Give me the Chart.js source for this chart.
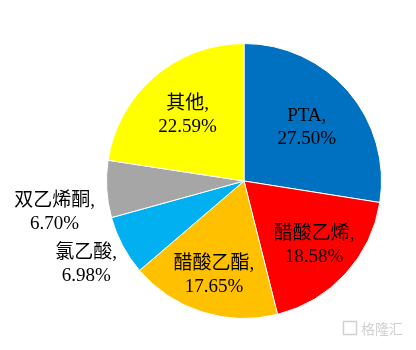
<!DOCTYPE html>
<html>
<head>
<meta charset="utf-8">
<script src="https://cdn.jsdelivr.net/npm/chart.js@4.4.0/dist/chart.umd.min.js"></script>
<style>
  html, body { margin: 0; padding: 0; background: #fff; }
  #wrap { width: 416px; height: 350px; position: relative; }
</style>
</head>
<body>
<div id="wrap"><canvas id="pieChart"></canvas></div>
<script>
// ==================== DATA ====================
const categories = ['PTA', '醋酸乙烯', '醋酸乙酯', '氯乙酸', '双乙烯酮', '其他'];
const shares = [27.50, 18.58, 17.65, 6.98, 6.70, 22.59];
const shareLabels = ['27.50%', '18.58%', '17.65%', '6.98%', '6.70%', '22.59%'];

const colors = ['#0070C0', '#FF0000', '#FFC000', '#00B0F0', '#A6A6A6', '#FFFF00'];
// label placement: distance from centre as a fraction of radius, plus a small vertical nudge
const labelRadius = [0.60, 0.69, 0.72, 1.30, 1.38, 0.63];
const labelNudge = [0, 0, 0, 0, 20, 0];

const FONT = '19px "Liberation Serif", "Times New Roman", "Noto Sans CJK SC", serif';

// ==================== LABELS ====================
const sliceLabels = {
  id: 'sliceLabels',
  afterDatasetsDraw(chart) {
    const ctx = chart.ctx;
    const meta = chart.getDatasetMeta(0);
    ctx.save();
    ctx.font = FONT;
    ctx.fillStyle = '#000';
    ctx.textAlign = 'center';
    ctx.textBaseline = 'middle';
    meta.data.forEach((arc, i) => {
      const p = arc.getProps(['x', 'y', 'startAngle', 'endAngle', 'outerRadius'], true);
      const mid = (p.startAngle + p.endAngle) / 2;
      const r = p.outerRadius * labelRadius[i];
      const cx = p.x + Math.cos(mid) * r;
      const cy = p.y + Math.sin(mid) * r + labelNudge[i];
      ctx.fillText(categories[i] + ',', cx, cy - 11.5);
      ctx.fillText(shareLabels[i], cx, cy + 11.5);
    });
    // watermark
    ctx.fillStyle = '#d0d0d0';
    ctx.font = '14px "Noto Sans CJK SC", sans-serif';
    ctx.textAlign = 'left';
    ctx.strokeStyle = '#d0d0d0';
    ctx.lineWidth = 1.5;
    ctx.strokeRect(343.5, 321.5, 13, 13);
    ctx.fillText('格隆汇', 361, 329);
    ctx.restore();
  }
};

// ==================== CHART ====================
new Chart(document.getElementById('pieChart'), {
  type: 'pie',
  data: {
    labels: categories,
    datasets: [{
      data: shares,
      backgroundColor: colors,
      borderColor: '#ffffff',
      borderWidth: 1
    }]
  },
  options: {
    responsive: true,
    maintainAspectRatio: false,
    animation: false,
    layout: { padding: { left: 106, right: 34, top: 43, bottom: 31 } },
    plugins: { legend: { display: false }, tooltip: { enabled: false } }
  },
  plugins: [sliceLabels]
});
</script>
</body>
</html>
